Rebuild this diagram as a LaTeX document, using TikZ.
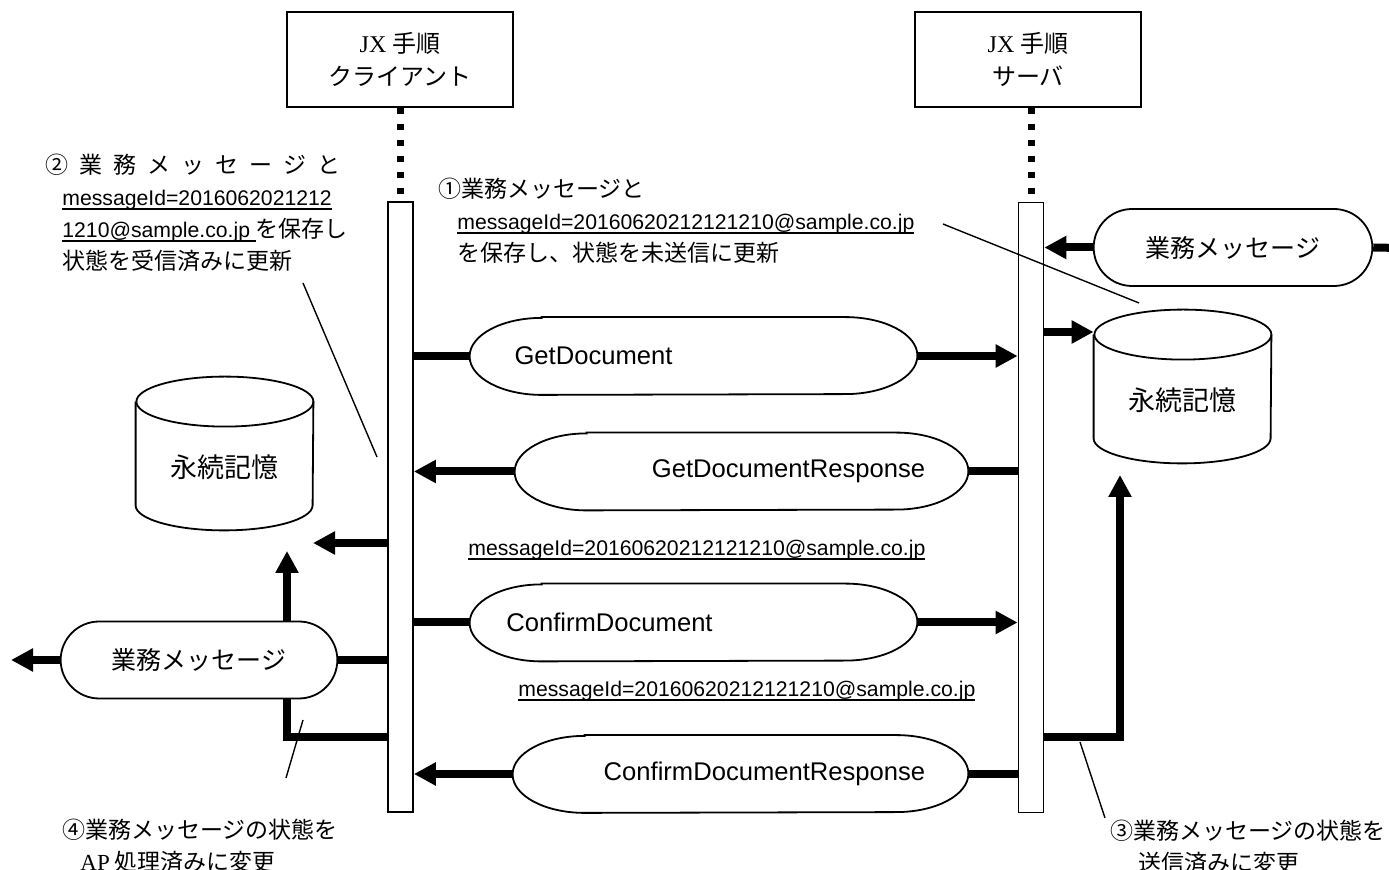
\documentclass[tikz,border=0pt]{standalone}
\usepackage{fontspec}
\setmainfont{Liberation Serif}
\setsansfont{Liberation Sans}
\newfontfamily\jp{Noto Sans CJK JP}
\usepackage{tikz}
\usetikzlibrary{arrows.meta,shapes.misc}

\newcommand{\idtext}[1]{\setbox0=\hbox{\sffamily\fontsize{10.6pt}{16pt}\selectfont #1}\rlap{\rule[-2pt]{\wd0}{0.9pt}}\box0}
\newcommand{\capsule}[1]{\draw[line width=0.9pt] ([xshift=36pt]#1.north west) -- ([xshift=-36pt]#1.north east)
  arc[start angle=90,end angle=-90,x radius=36pt,y radius=19.25pt] -- ([xshift=36pt]#1.south west)
  arc[start angle=270,end angle=90,x radius=36pt,y radius=19.25pt] -- cycle;}
\newcommand{\drum}[1]{\draw[line width=0.9pt] ([yshift=-12.5pt]#1.north west) -- ([yshift=12.5pt]#1.south west)
  arc[start angle=180,end angle=360,x radius=44.25pt,y radius=12.5pt] -- ([yshift=-12.5pt]#1.north east)
  arc[start angle=0,end angle=180,x radius=44.25pt,y radius=12.5pt];
  \draw[line width=0.9pt] ([yshift=-12.5pt]#1.north east) arc[start angle=0,end angle=-180,x radius=44.25pt,y radius=12.5pt];}

\begin{document}
\begin{tikzpicture}[x=0.5pt, y=-0.5pt, >={Triangle[length=11pt,width=11pt]},
  hdr/.style={draw, line width=1pt, minimum width=113pt, minimum height=47.5pt, align=center, font=\fontsize{12pt}{16.5pt}\selectfont},
  bar/.style={draw, line width=0.9pt, inner sep=0, minimum width=12.5pt, minimum height=305pt},
  lifeline/.style={line width=3.5pt, dash pattern=on 3pt off 5pt},
  msg/.style={line width=4pt},
  msgbox/.style={inner sep=0, minimum width=#1, minimum height=38.5pt},
  msgtext/.style={font=\sffamily\fontsize{12.8pt}{15pt}\selectfont},
  work/.style={draw, line width=0.9pt, rounded rectangle, minimum height=38.5pt, font=\jp\fontsize{12.5pt}{15pt}\selectfont},
  store/.style={inner sep=0, minimum width=88.5pt, minimum height=76.5pt,
    label={[font=\jp\fontsize{13.5pt}{16pt}\selectfont, yshift=-6.75pt]center:永続記憶}},
  note/.style={align=left, inner sep=0, anchor=base west, font=\jp\fontsize{11.5pt}{16pt}\selectfont},
  lead/.style={line width=0.7pt}]

  \useasboundingbox (0,0) rectangle (1389,870);

  % lifelines
  \node[hdr] (cbox) at (400,59.5) {JX {\jp 手順}\\{\jp クライアント}};
  \node[hdr] (sbox) at (1028,59.5) {JX {\jp 手順}\\{\jp サーバ}};
  \node[bar] (cb) at (400.5,507) {};
  \node[bar] (sb) at (1031,507.5) {};
  \draw[lifeline] (cb.north |- cbox.south) -- (cb.north);
  \draw[lifeline] (sb.north |- sbox.south) -- (sb.north);

  % messages
  \node[msgbox=223.5pt] (gd) at (693.5,356) {};
  \node[msgbox=226.5pt] (gdr) at (741.5,471.5) {};
  \node[msgbox=223.5pt] (cd) at (693.5,622.5) {};
  \node[msgbox=227.5pt] (cdr) at (740.5,774) {};
  \capsule{gd} \capsule{gdr} \capsule{cd} \capsule{cdr}
  \node[msgtext] (gdt) at ([xshift=-50pt]gd.center) {GetDocument};
  \node[msgtext] (gdrt) at ([xshift=23.5pt]gdr.center) {GetDocumentResponse};
  \node[msgtext] (cdt) at ([xshift=-42pt]cd.center) {ConfirmDocument};
  \node[msgtext] (cdrt) at ([xshift=12pt]cdr.center) {ConfirmDocumentResponse};
  \node[note] (mid1) at (468,556) {\idtext{messageId=20160620212121210@sample.co.jp}};
  \node[note] (mid2) at (518,697) {\idtext{messageId=20160620212121210@sample.co.jp}};

  \draw[msg] (cb.east |- gd.west) -- (gd.west);
  \draw[msg,->] (gd.east) -- (sb.west |- gd.east);
  \draw[msg] (sb.west |- gdr.east) -- (gdr.east);
  \draw[msg,->] (gdr.west) -- (cb.east |- gdr.west);
  \draw[msg] (cb.east |- cd.west) -- (cd.west);
  \draw[msg,->] (cd.east) -- (sb.west |- cd.east);
  \draw[msg] (sb.west |- cdr.east) -- (cdr.east);
  \draw[msg,->] (cdr.west) -- (cb.east |- cdr.west);

  % server side
  \node[work, minimum width=146pt] (sm) at (1233,247.5) {業務メッセージ};
  \node[store] (sdb) at (1182.5,386.5) {};
  \drum{sdb}
  \coordinate (sin) at (1400,248);
  \coordinate (sup) at (1120,475);
  \draw[msg] (sin) -- (sm.east);
  \draw[msg,->] (sm.west) -- (sb.east |- sm.west);
  \draw[msg,->] (sb.east |- 0,332) -- (sdb.west |- 0,332);
  \draw[msg,->] (sb.east |- 0,737) -| (sup);

  % client side
  \node[work, minimum width=145pt] (cm) at (199,660) {業務メッセージ};
  \node[store] (cdb) at (224.5,453.5) {};
  \drum{cdb}
  \coordinate (cin) at (313,543);
  \coordinate (cout) at (11,660);
  \coordinate (cup) at (287,551);
  \draw[msg,->] (cb.west |- cin) -- (cin);
  \draw[msg] (cb.west |- cm.east) -- (cm.east);
  \draw[msg,->] (cm.west) -- (cout);
  \draw[msg,->] (cup |- cm.north) -- (cup);
  \draw[msg] (cb.west |- 0,737) -| (cup |- cm.south);

  % notes
  \node[note] (note1) at (438,262) {①業務メッセージと\\\hspace*{9.5pt}\idtext{messageId=20160620212121210@sample.co.jp}\\\hspace*{9.5pt}を保存し、状態を未送信に更新};
  \node[note] (note2) at (45,270) {\makebox[147.5pt][s]{②\hfill 業\hfill 務\hfill メ\hfill ッ\hfill セ\hfill ー\hfill ジ\hfill と}\\\hspace*{8.5pt}\idtext{messageId=2016062021212}\\\hspace*{8.5pt}\idtext{1210@sample.co.jp\ }を保存し\\\hspace*{8.5pt}状態を受信済みに更新};
  \node[note] (note3) at (1110,872) {③業務メッセージの状態を\\\hspace*{14pt}送信済みに変更};
  \node[note] (note4) at (62,871) {④業務メッセージの状態を\\\hspace*{9pt}{\rmfamily AP} 処理済みに変更};
  \coordinate (n1a) at (943,224); \coordinate (n1b) at (1139,303);
  \coordinate (n2a) at (303,283); \coordinate (n2b) at (377,457);
  \coordinate (n3a) at (1080,742); \coordinate (n3b) at (1105,818);
  \coordinate (n4a) at (303,720); \coordinate (n4b) at (286,778);
  \draw[lead] (n1a) -- (n1b);
  \draw[lead] (n2a) -- (n2b);
  \draw[lead] (n3a) -- (n3b);
  \draw[lead] (n4a) -- (n4b);
\end{tikzpicture}
\end{document}
